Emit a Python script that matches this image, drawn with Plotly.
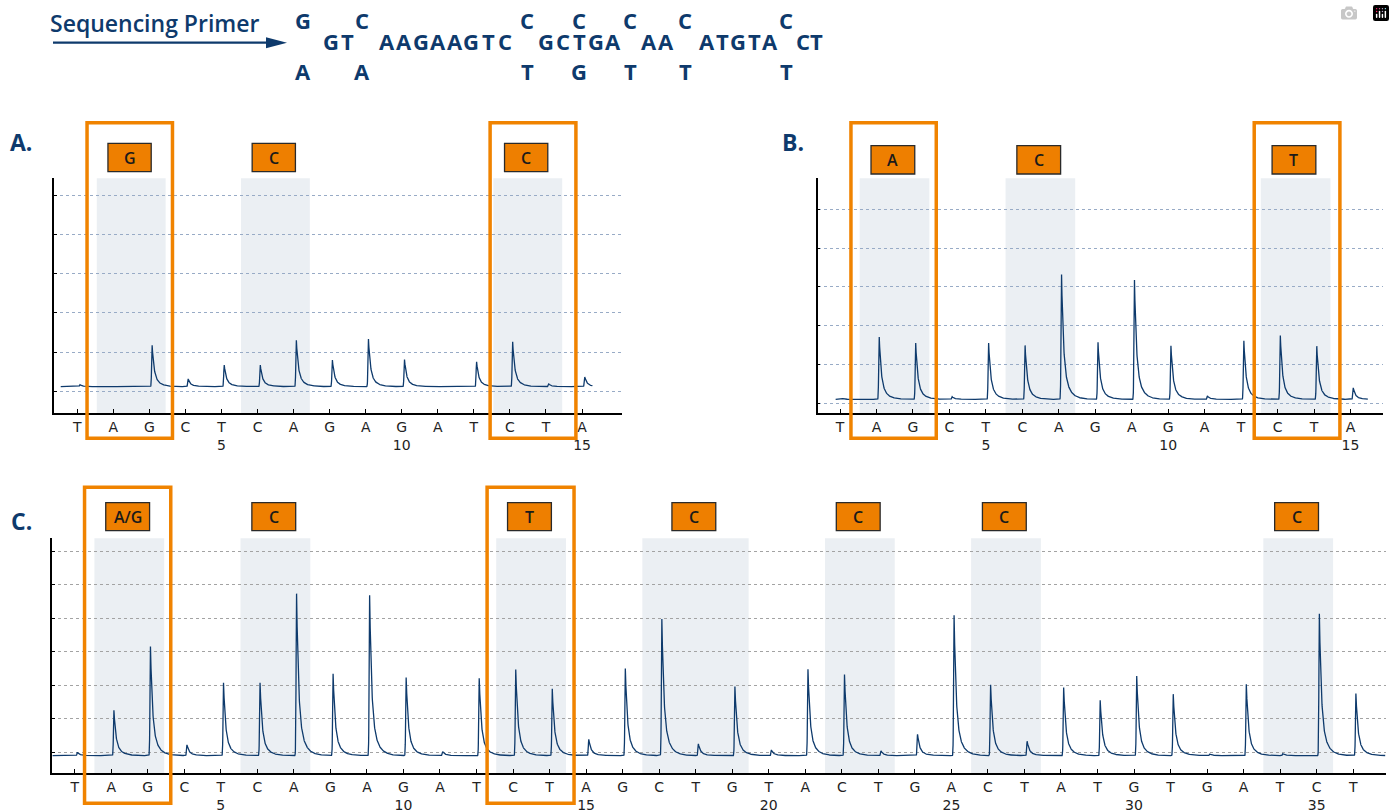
import numpy as np
import plotly.graph_objects as go

W, H = 1395, 812

# ---------------- data ----------------
dispense_ab = list("TAGCTCAGAGATCTA")
dispense_c = list("TAGCTCAGAGATCTAGCTGTACTGACTATGTGATCT")

# peak tops (grid-line units, bottom dotted line = 0)
peaks_a = [0.17, 0.12, 1.19, 0.32, 0.68, 0.68, 1.32, 0.81, 1.35, 0.82, 0.12, 0.76, 1.28, 0.19, 0.37]
peaks_b = [0.13, 1.74, 1.58, 0.18, 1.58, 1.52, 3.37, 1.60, 3.23, 1.51, 0.20, 1.64, 1.78, 1.50, 0.41]
peaks_c = [0.00, 1.26, 3.17, 0.22, 2.08, 2.08, 4.75, 2.35, 4.70, 2.24, 0.02, 2.22, 2.48, 1.90,
           0.39, 2.51, 3.99, 0.25, 1.97, 0.07, 2.49, 2.33, 0.04, 0.54, 4.10, 2.02, 0.33, 1.94,
           1.56, 2.28, 1.74, -0.05, 2.04, -0.04, 4.15, 1.76]
baseline = {"A": 0.12, "B": 0.11, "C": -0.10}

shade_groups = {
    "A": [(2, 3), (6, 7), (13, 14)],
    "B": [(2, 3), (6, 7), (13, 14)],
    "C": [(2, 3), (6, 7), (13, 14), (17, 19), (22, 23), (26, 27), (34, 35)],
}
shade_labels = {
    "A": ["G", "C", "C"],
    "B": ["A", "C", "T"],
    "C": ["A/G", "C", "T", "C", "C", "C", "C"],
}
highlight_groups = {"A": [(2, 3), (13, 14)], "B": [(2, 3), (13, 14)], "C": [(2, 3), (13, 14)]}

primer_label = "Sequencing Primer"
seq_top = ["G", "C", "C", "C", "C", "C", "C"]
seq_bottom = ["A", "A", "T", "G", "T", "T", "T"]
seq_mid = list("GTAAGAAGTCGCTGAAAATGTACT")

# ---------------- style / layout ----------------
NAVY = "#0e3a6c"
ORANGE = "#F08300"
SHADE = "#EBEFF3"
FONT = "DejaVu Sans"
HFONT = "Open Sans"

panels = {
    "A": dict(ax="", xpx=(54.3, 621.7), ypx=(178.3, 413.3), xr=(0.362, 16.1), yr=(-0.561, 5.434),
              grid="#98abc6", ntick=6, span=(0.54, 15.29), disp=dispense_ab, peaks=peaks_a,
              box_y=(122.7, 438.3), lab_y=(143.3, 171.7), box_pad=[(0.73, 0.64), (0.55, 0.83)],
              letter=("A.", 8, 142.5)),
    "B": dict(ax="2", xpx=(817.7, 1383.3), ypx=(178.3, 413.3), xr=(0.388, 15.9), yr=(-0.247, 5.794),
              grid="#98abc6", ntick=6, span=(0.88, 15.48), disp=dispense_ab, peaks=peaks_b,
              box_y=(122.7, 438.3), lab_y=(145.7, 174.0), box_pad=[(0.70, 0.64), (0.64, 0.71)],
              letter=("B.", 780, 142.5)),
    "C": dict(ax="3", xpx=(52.3, 1385.7), ypx=(538.3, 773.3), xr=(0.387, 36.89), yr=(-0.627, 6.388),
              grid="#a3a3a3", ntick=7, span=(0.39, 36.88), disp=dispense_c, peaks=peaks_c,
              box_y=(487.3, 803.3), lab_y=(502.7, 530.7), box_pad=[(0.73, 0.63), (0.71, 0.67)],
              letter=("C.", 9, 521.0)),
}


def px(x):
    return x / W


def py(y):
    return 1 - y / H


def pyro(span, tops, base):
    xs = np.arange(span[0], span[1], 0.004)
    ys = np.full_like(xs, base)
    for i, top in enumerate(tops, start=1):
        h = top - base
        if h <= 0:
            continue
        d = xs - (i + 0.075)
        dp = np.maximum(d, 0)
        rise = np.exp(-(np.minimum(d, 0) / 0.018) ** 2)
        decay = 0.7 * np.exp(-dp / 0.05) + 0.3 * np.exp(-dp / 0.16)
        ys = ys + h * np.where(d < 0, rise, decay)
    return xs, ys


fig = go.Figure()
shapes = []
annotations = []
layout = {}

for key, p in panels.items():
    ax = p["ax"]
    xs, ys = pyro(p["span"], p["peaks"], baseline[key])
    fig.add_trace(go.Scatter(x=xs, y=ys, mode="lines", line=dict(color=NAVY, width=1.3),
                             xaxis="x" + ax, yaxis="y" + ax, hoverinfo="skip", showlegend=False))
    n = len(p["disp"])
    ticktext = [L + ("<br>%d" % (k + 1) if (k + 1) % 5 == 0 else "") for k, L in enumerate(p["disp"])]
    layout["xaxis" + ax] = dict(
        domain=[px(p["xpx"][0]), px(p["xpx"][1])], range=list(p["xr"]), anchor="y" + ax,
        tickmode="array", tickvals=list(range(1, n + 1)), ticktext=ticktext,
        ticks="inside", ticklen=5, tickcolor="#000", tickwidth=1,
        showline=True, linecolor="#000", linewidth=1.5, showgrid=False, zeroline=False,
        tickfont=dict(family=FONT, size=14, color="#222"), fixedrange=True,
    )
    layout["yaxis" + ax] = dict(
        domain=[py(p["ypx"][1]), py(p["ypx"][0])], range=list(p["yr"]), anchor="x" + ax,
        tickmode="array", tickvals=list(range(p["ntick"])), showticklabels=False,
        ticks="inside", ticklen=3, tickcolor="#000", tickwidth=1,
        showline=True, linecolor="#000", linewidth=1.5,
        showgrid=True, gridcolor=p["grid"], griddash="dot", gridwidth=1, zeroline=False,
        fixedrange=True,
    )
    xref = "x" + ax
    # shaded regions and orange labels
    for (a, b), lab in zip(shade_groups[key], shade_labels[key]):
        shapes.append(dict(type="rect", xref=xref, yref="y" + ax + " domain", x0=a - 0.46, x1=b + 0.45,
                           y0=0, y1=1, fillcolor=SHADE, line=dict(width=0), layer="below"))
        c = (a + b) / 2 - 0.05
        shapes.append(dict(type="rect", xref=xref, yref="paper", x0=c - 0.6, x1=c + 0.6,
                           y0=py(p["lab_y"][1]), y1=py(p["lab_y"][0]), fillcolor="#EE7F00",
                           line=dict(color="#2a2a2a", width=1.3), layer="above"))
        annotations.append(dict(x=c, y=py((p["lab_y"][0] + p["lab_y"][1]) / 2 + 0.5), xref=xref, yref="paper",
                                text=lab, showarrow=False, xanchor="center", yanchor="middle",
                                font=dict(family=HFONT, size=16, color="#1a1a1a", weight=600)))
    # orange highlight boxes
    for (a, b), (pl, pr) in zip(highlight_groups[key], p["box_pad"]):
        shapes.append(dict(type="rect", xref=xref, yref="paper", x0=a - pl, x1=b + pr,
                           y0=py(p["box_y"][1]), y1=py(p["box_y"][0]),
                           line=dict(color=ORANGE, width=3.5), fillcolor="rgba(0,0,0,0)", layer="above"))
    t, lx, ly = p["letter"]
    annotations.append(dict(x=px(lx), y=py(ly), xref="paper", yref="paper", text="<b>%s</b>" % t,
                            showarrow=False, xanchor="left", yanchor="middle",
                            font=dict(family=HFONT, size=23, color=NAVY)))

# ---------------- header ----------------
annotations.append(dict(x=px(48), y=py(23.5), xref="paper", yref="paper", text=primer_label,
                        showarrow=False, xanchor="left", yanchor="middle",
                        font=dict(family=HFONT, size=23, color=NAVY, weight=600)))
shapes.append(dict(type="line", xref="paper", yref="paper", x0=px(53), x1=px(272), y0=py(42.7), y1=py(42.7),
                   line=dict(color=NAVY, width=2.2)))
shapes.append(dict(type="path", xref="paper", yref="paper",
                   path="M %f %f L %f %f L %f %f Z" % (px(266), py(37.3), px(287), py(42.7), px(266), py(48.2)),
                   fillcolor=NAVY, line=dict(width=0)))

var_x = [303, 362, 527, 579, 630, 685, 786]
mid_x = [331, 347, 387.4, 404.2, 421, 437.8, 454.6, 471.4, 488.2, 505,
         546.3, 562.9, 579.5, 596.1, 612.7, 648.8, 665.6,
         706.6, 722.5, 738.4, 754.3, 770.2, 803, 817]
row_y = {"top": 20.5, "mid": 41.5, "bot": 71.5}


def seq_ann(letter, x, y):
    return dict(x=px(x), y=py(y), xref="paper", yref="paper", text=letter, showarrow=False,
                xanchor="center", yanchor="middle",
                font=dict(family=HFONT, size=22, color=NAVY, weight=700))


for L, x in zip(seq_top, var_x):
    annotations.append(seq_ann(L, x, row_y["top"]))
for L, x in zip(seq_bottom, var_x):
    annotations.append(seq_ann(L, x, row_y["bot"]))
for L, x in zip(seq_mid, mid_x):
    annotations.append(seq_ann(L, x, row_y["mid"]))

fig.update_layout(
    width=W, height=H, margin=dict(l=0, r=0, t=0, b=0, pad=0),
    paper_bgcolor="white", plot_bgcolor="white",
    shapes=shapes, annotations=annotations, showlegend=False, **layout,
)

fig.write_html("out.html", post_script="document.body.style.margin='0';")
